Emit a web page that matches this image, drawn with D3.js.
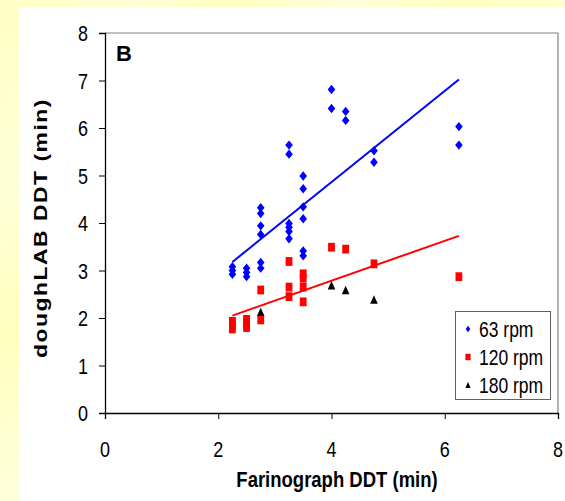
<!DOCTYPE html>
<html><head><meta charset="utf-8">
<script src="https://cdn.jsdelivr.net/npm/d3@7"></script>
<style>body{margin:0;overflow:hidden;background:#fff}</style>
</head><body><svg id="c" width="565" height="501"></svg>
<script>
const xTicks=[0,2,4,6,8];
const yTicks=[0,1,2,3,4,5,6,7,8];
const seriesNames=["63 rpm","120 rpm","180 rpm"];
const rpm63=[[2.25,3.08],[2.25,3.0],[2.25,2.92],[2.5,3.05],[2.5,2.96],[2.5,2.87],
 [2.75,4.32],[2.75,4.20],[2.75,3.94],[2.75,3.76],[2.75,3.17],[2.75,3.05],
 [3.25,5.64],[3.25,5.45],[3.25,3.99],[3.25,3.91],[3.25,3.82],[3.25,3.67],
 [3.5,4.99],[3.5,4.72],[3.5,4.34],[3.5,4.09],[3.5,3.41],[3.5,3.31],
 [4,6.81],[4,6.41],[4.25,6.35],[4.25,6.16],[4.75,5.52],[4.75,5.28],[6.25,6.03],[6.25,5.64]];
const rpm120=[[2.25,1.93],[2.25,1.85],[2.25,1.77],[2.5,1.97],[2.5,1.88],[2.5,1.8],
 [2.75,2.59],[2.75,1.96],[3.25,3.19],[3.25,2.65],[3.25,2.45],
 [3.5,2.93],[3.5,2.84],[3.5,2.65],[3.5,2.34],[4,3.49],[4.25,3.45],[4.75,3.14],[6.25,2.87]];
const rpm180=[[2.75,2.13],[4,2.69],[4.25,2.59],[4.75,2.39]];
const trend63=[[2.25,3.18],[6.25,7.02]];
const trend120=[[2.25,2.05],[6.25,3.73]];

const SY=1.24; // vertical stretch of the original picture
const FONT="'Liberation Sans', Arial, sans-serif";
const svg=d3.select("#c");
const defs=svg.append("defs");
const g=defs.append("linearGradient").attr("id","bg").attr("x1","0").attr("y1","0").attr("x2","1").attr("y2","0.6");
[[0,"#ffffc4"],[0.18,"#ffffd8"],[0.3,"#ffffbf"],[0.45,"#ffffdc"],[0.6,"#ffffc2"],[0.8,"#ffffd6"],[1,"#ffffc4"]]
 .forEach(([o,c])=>g.append("stop").attr("offset",o).attr("stop-color",c));
svg.append("rect").attr("width",565).attr("height",501).attr("fill","url(#bg)");
svg.append("rect").attr("x",19).attr("y",7).attr("width",546).attr("height",494).attr("fill","#fff");

const x=d3.scaleLinear().domain([0,8]).range([105,558]);
const y=d3.scaleLinear().domain([0,8]).range([413,33]);

function txt(parent,tx,ty,str,opts={}){
  const sy=opts.sy===undefined?SY:opts.sy;
  const t=parent.append("text")
   .attr("transform",`translate(${tx},${ty}) scale(1,${sy})${opts.rot?" rotate(-90)":""}`)
   .attr("font-family",FONT).attr("font-size",opts.size||15)
   .attr("font-weight",opts.bold?"bold":"normal")
   .attr("text-anchor",opts.anchor||"start").attr("fill","#000").text(str);
  if(opts.dy) t.attr("dy",opts.dy);
  if(opts.ls) t.attr("letter-spacing",opts.ls);
  return t;
}

// plot frame
svg.append("line").attr("x1",x(0)).attr("x2",x(8)).attr("y1",y(8)).attr("y2",y(8)).attr("stroke","#808080").attr("stroke-width",1.2);
svg.append("line").attr("x1",x(8)).attr("x2",x(8)).attr("y1",y(8)).attr("y2",y(0)).attr("stroke","#808080").attr("stroke-width",1.2);

// axes
const yAx=svg.append("g").attr("transform",`translate(${x(0)},0)`)
 .call(d3.axisLeft(y).tickValues(yTicks).tickSize(6).tickFormat(""));
const xAx=svg.append("g").attr("transform",`translate(0,${y(0)})`)
 .call(d3.axisBottom(x).tickValues(xTicks).tickSize(6).tickFormat(""));
[yAx,xAx].forEach(a=>{a.select(".domain").attr("stroke","#000").attr("stroke-width",1.3);a.selectAll(".tick line").attr("stroke","#000");});

yTicks.forEach(v=>txt(svg,88,y(v),String(v),{anchor:"end",dy:"0.36em",size:18}));
xTicks.forEach(v=>txt(svg,x(v),y(0)+44,String(v),{anchor:"middle",size:18}));

txt(svg,337,487,"Farinograph DDT (min)",{anchor:"middle",bold:true,size:18.5});
txt(svg,47,228,"doughLAB DDT (min)",{anchor:"middle",bold:true,size:18.5,rot:true,ls:"1.2px"});
txt(svg,116,61,"B",{bold:true,size:22,sy:1});

// trend lines
const line=d3.line().x(d=>x(d[0])).y(d=>y(d[1]));
svg.append("path").attr("d",line(trend63)).attr("stroke","#0000ff").attr("stroke-width",2).attr("fill","none");
svg.append("path").attr("d",line(trend120)).attr("stroke","#ff0000").attr("stroke-width",2).attr("fill","none");

// marker shapes
const diamond=(w,h)=>`M0,${-h}L${w},0L0,${h}L${-w},0Z`;
const square=(w,h)=>`M${-w},${-h}H${w}V${h}H${-w}Z`;
const tri=(w,h)=>`M0,${-h}L${w},${h}L${-w},${h}Z`;

svg.append("g").selectAll("path").data(rpm120).join("path")
 .attr("transform",d=>`translate(${x(d[0])},${y(d[1])})`).attr("d",square(3.4,4.4)).attr("fill","#ff0000");
svg.append("g").selectAll("path").data(rpm180).join("path")
 .attr("transform",d=>`translate(${x(d[0])},${y(d[1])})`).attr("d",tri(3.8,4.2)).attr("fill","#000");
svg.append("g").selectAll("path").data(rpm63).join("path")
 .attr("transform",d=>`translate(${x(d[0])},${y(d[1])})`).attr("d",diamond(3.8,4.7)).attr("fill","#0000ff");

// legend
const lg=svg.append("g");
lg.append("rect").attr("x",455.5).attr("y",311.5).attr("width",95).attr("height",88).attr("fill","#fff").attr("stroke","#606060").attr("stroke-width",1);
const lShapes=[[diamond(2.3,3.2),"#0000ff"],[square(2.6,3.2),"#ff0000"],[tri(2.6,3),"#000"]];
const lY=[329,357,385];
seriesNames.forEach((n,i)=>{
  lg.append("path").attr("transform",`translate(468,${lY[i]})`).attr("d",lShapes[i][0]).attr("fill",lShapes[i][1]);
  txt(lg,479,lY[i],n,{dy:"0.36em",size:17.5});
});
</script></body></html>
